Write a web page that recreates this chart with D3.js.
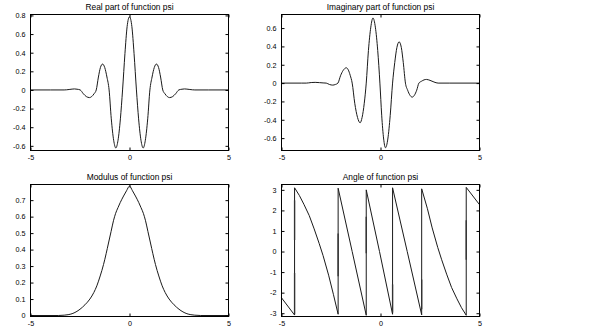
<!DOCTYPE html>
<html>
<head>
<meta charset="utf-8">
<script src="https://cdn.jsdelivr.net/npm/d3@7"></script>
<style>
  html, body { margin: 0; padding: 0; background: #fff; }
  svg { display: block; }
</style>
</head>
<body>
<svg id="fig" width="600" height="335"></svg>
<script>
// ---- data -------------------------------------------------------------
const xTicks = [-5, 0, 5];
const realTicks = [-0.6, -0.4, -0.2, 0, 0.2, 0.4, 0.6, 0.8];
const imagTicks = [-0.6, -0.4, -0.2, 0, 0.2, 0.4, 0.6];
const modTicks = [0, 0.1, 0.2, 0.3, 0.4, 0.5, 0.6, 0.7];
const angleTicks = [-3, -2, -1, 0, 1, 2, 3];

// real part of psi
const realX = [-5, -4, -3.3, -3.05, -2.9, -2.78, -2.65, -2.49, -2.33, -2.18, -2.02, -1.91, -1.79, -1.68,
  -1.57, -1.47, -1.36, -1.25, -1.14, -1.03, -0.92, -0.8, -0.69, -0.58, -0.46, -0.35, -0.23, -0.12, 0,
  0.12, 0.23, 0.35, 0.46, 0.58, 0.69, 0.8, 0.92, 1.03, 1.14, 1.25, 1.36, 1.47, 1.57, 1.68,
  1.79, 1.91, 2.02, 2.18, 2.33, 2.49, 2.65, 2.78, 2.9, 3.05, 3.3, 4, 5];
const realY = [0, 0, 0, 0.005, 0.009, 0.011, 0.008, 0, -0.041, -0.071, -0.082, -0.071, -0.041, 0,
  0.139, 0.24, 0.278, 0.24, 0.139, 0, -0.31, -0.54, -0.623, -0.54, -0.31, 0, 0.39, 0.68, 0.785,
  0.68, 0.39, 0, -0.31, -0.54, -0.623, -0.54, -0.31, 0, 0.139, 0.24, 0.278, 0.24, 0.139, 0,
  -0.041, -0.071, -0.082, -0.071, -0.041, 0, 0.008, 0.011, 0.009, 0.005, 0, 0, 0];

// imaginary part of psi
const imagX = [-5, -4, -3.75, -3.5, -3.3, -3.08, -2.9, -2.74, -2.58, -2.41, -2.28, -2.15, -2.02, -1.88,
  -1.73, -1.63, -1.53, -1.43, -1.3, -1.16, -1.03, -0.93, -0.82, -0.72, -0.61, -0.49, -0.38, -0.26,
  -0.14, -0.03, 0.06, 0.16, 0.25, 0.37, 0.49, 0.61, 0.72, 0.83, 0.94, 1.05, 1.15, 1.26, 1.37, 1.49,
  1.6, 1.71, 1.83, 1.94, 2.07, 2.2, 2.32, 2.5, 2.7, 2.91, 3.5, 5];
const imagY = [0, 0, 0, 0.006, 0.008, 0.005, 0.002, 0, -0.015, -0.022, -0.015, 0, 0.08, 0.14,
  0.167, 0.145, 0.085, 0, -0.22, -0.375, -0.433, -0.375, -0.22, 0, 0.355, 0.61, 0.71, 0.61,
  0.355, 0, -0.35, -0.61, -0.705, -0.61, -0.355, 0, 0.225, 0.39, 0.45, 0.39, 0.225, 0, -0.077, -0.133,
  -0.153, -0.133, -0.077, 0, 0.02, 0.035, 0.04, 0.03, 0.012, 0, 0, 0];

// modulus of psi
const modX = [-5, -3.6, -3.3, -3.1, -2.9, -2.7, -2.5, -2.25, -2.0, -1.8, -1.65, -1.48, -1.31, -1.18,
  -1.06, -0.93, -0.81, -0.7, -0.58, -0.47, -0.3, -0.15, 0, 0.15, 0.3, 0.47, 0.58, 0.7, 0.81, 0.93,
  1.06, 1.18, 1.31, 1.48, 1.65, 1.8, 2.0, 2.25, 2.5, 2.7, 2.9, 3.1, 3.3, 3.6, 5];
const modY = [0, 0, 0.002, 0.005, 0.011, 0.022, 0.038, 0.065, 0.1, 0.14, 0.18, 0.24, 0.31, 0.375,
  0.44, 0.51, 0.575, 0.62, 0.655, 0.685, 0.725, 0.757, 0.785, 0.757, 0.725, 0.685, 0.655, 0.62, 0.575, 0.51,
  0.44, 0.375, 0.31, 0.24, 0.18, 0.14, 0.1, 0.065, 0.038, 0.022, 0.011, 0.005, 0.002, 0, 0];

// angle of psi (wrapped to [-pi, pi]; repeated x marks a wrap)
const angleX = [-5, -4.34, -4.34, -4.1, -3.87, -3.6, -3.35, -3.1, -2.9, -2.62, -2.38, -2.14,
  -2.14, -1.43, -0.72, -0.72, -0.05, 0.61, 0.61, 1.35, 2.08,
  2.08, 2.37, 2.61, 2.89, 3.09, 3.34, 3.59, 3.86, 4.09, 4.33, 4.33, 5];
const angleY = [-2.25, -3.09, 3.1, 2.73, 2.3, 1.75, 1.1, 0.4, -0.2, -1.15, -2.08, -3.05,
  3.08, 0, -3.1, 3.0, 0, -3.05, 3.1, 0, -3.08,
  3.05, 2.08, 1.15, 0.2, -0.4, -1.1, -1.75, -2.3, -2.73, -3.1, 3.12, 2.28];

// stretches of the wrap lines where the sampled angle flips back and forth
const wrapX = [-4.34, -4.34, -2.14, -0.72, 0.61, 2.08, 4.33];
const wrapFrom = [-1.04, 0.56, 0.88, 1.69, -1.6, -1.36, 1.52];
const wrapTo = [-3.05, 2.49, -1.2, -0.08, -2.97, -2.81, -0.4];

// ---- drawing ----------------------------------------------------------
const svg = d3.select("#fig");
const FONT = "'Liberation Sans', Arial, Helvetica, sans-serif";

const fmtDec = d => (d === 0 ? "0" : d.toFixed(1));
const fmtInt = d => String(d);

const panels = [
  { title: "Real part of function psi", xs: realX, ys: realY, yDomain: [-0.65, 0.81],
    yTicks: realTicks, fmt: fmtDec, box: [30.5, 14.5, 228.5, 150.5], curve: d3.curveMonotoneX },
  { title: "Imaginary part of function psi", xs: imagX, ys: imagY, yDomain: [-0.735, 0.748],
    yTicks: imagTicks, fmt: fmtDec, box: [281.5, 14.5, 479.5, 150.5], curve: d3.curveMonotoneX },
  { title: "Modulus of function psi", xs: modX, ys: modY, yDomain: [-0.006, 0.795],
    yTicks: modTicks, fmt: fmtDec, box: [30.5, 184.5, 228.5, 316.5], curve: d3.curveMonotoneX },
  { title: "Angle of function psi", xs: angleX, ys: angleY, yDomain: [-3.16, 3.26],
    yTicks: angleTicks, fmt: fmtInt, box: [281.5, 184.5, 479.5, 316.5], curve: d3.curveLinear,
    wraps: true }
];

panels.forEach(p => {
  const [x0, y0, x1, y1] = p.box;
  const x = d3.scaleLinear().domain([-5, 5]).range([x0, x1]);
  const y = d3.scaleLinear().domain(p.yDomain).range([y1, y0]);
  const g = svg.append("g");

  // curve
  const pts = p.xs.map((v, i) => [v, p.ys[i]]);
  g.append("path")
    .datum(pts)
    .attr("fill", "none")
    .attr("stroke", "#1a1a1a")
    .attr("stroke-width", 1)
    .attr("d", d3.line().x(d => x(d[0])).y(d => y(d[1])).curve(p.curve));

  // slightly heavier parts of the wrap lines
  if (p.wraps) {
    g.selectAll("line.wrap")
      .data(wrapX.map((v, i) => ({ x: v, a: wrapFrom[i], b: wrapTo[i] })))
      .join("line")
      .attr("class", "wrap")
      .attr("x1", d => x(d.x)).attr("x2", d => x(d.x))
      .attr("y1", d => y(d.a)).attr("y2", d => y(d.b))
      .attr("stroke", "#333")
      .attr("stroke-width", 1.35);
  }

  const tick = 3;
  // left axis with labels, ticks pointing inward
  const gl = g.append("g").attr("transform", `translate(${x0},0)`)
    .call(d3.axisLeft(y).tickValues(p.yTicks).tickFormat(p.fmt)
      .tickSizeInner(-tick).tickSizeOuter(0).tickPadding(5));
  // bottom axis with labels
  const gb = g.append("g").attr("transform", `translate(0,${y1})`)
    .call(d3.axisBottom(x).tickValues(xTicks).tickFormat(fmtInt)
      .tickSizeInner(-tick).tickSizeOuter(0).tickPadding(4));
  // mirrored ticks on right and top
  const gr = g.append("g").attr("transform", `translate(${x1},0)`)
    .call(d3.axisRight(y).tickValues(p.yTicks).tickFormat("")
      .tickSizeInner(-tick).tickSizeOuter(0));
  const gt = g.append("g").attr("transform", `translate(0,${y0})`)
    .call(d3.axisTop(x).tickValues(xTicks).tickFormat("")
      .tickSizeInner(-tick).tickSizeOuter(0));

  [gl, gb, gr, gt].forEach(a => {
    a.select(".domain").remove();
    a.attr("font-family", FONT).attr("font-size", 7.2);
    a.selectAll("line").attr("stroke", "#000").attr("stroke-width", 1);
    a.selectAll("text").attr("fill", "#000");
  });

  // axes box
  g.append("rect")
    .attr("x", x0).attr("y", y0)
    .attr("width", x1 - x0).attr("height", y1 - y0)
    .attr("fill", "none").attr("stroke", "#000").attr("stroke-width", 1);

  // title
  g.append("text")
    .attr("x", (x0 + x1) / 2)
    .attr("y", y0 - 4.5)
    .attr("text-anchor", "middle")
    .attr("font-family", FONT)
    .attr("font-size", 8.4)
    .attr("fill", "#000")
    .text(p.title);
});
</script>
</body>
</html>
